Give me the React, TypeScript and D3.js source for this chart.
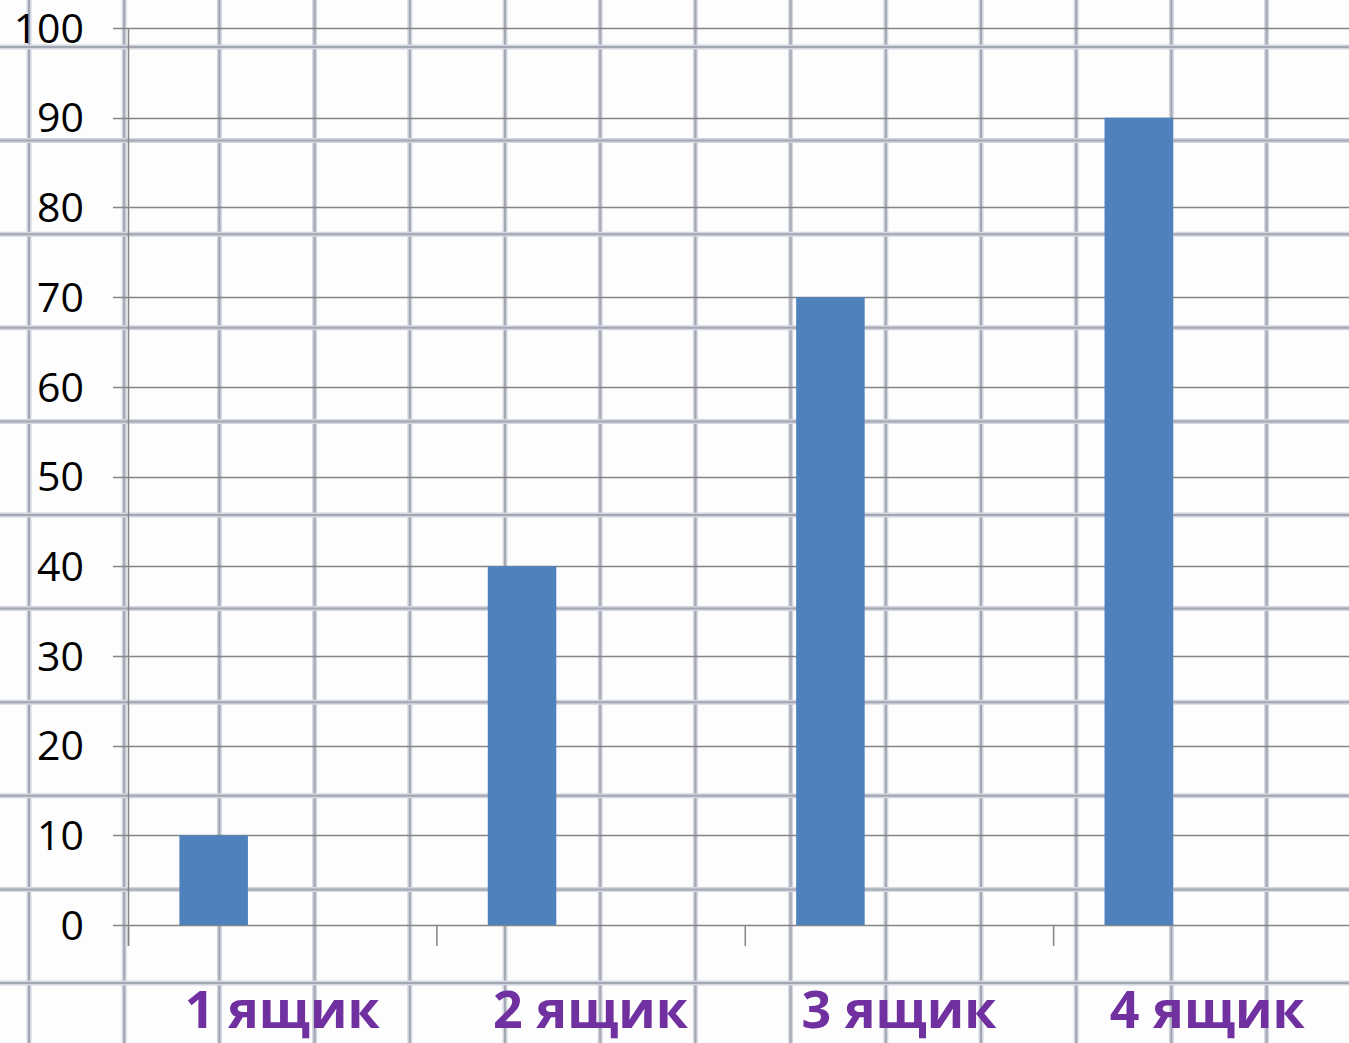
import React from "react";
import * as d3 from "d3";

const categories = ["1 ящик", "2 ящик", "3 ящик", "4 ящик"];
const seriesNames = ["Ряд 1", "Ряд 2", "Ряд 3"];
const series1 = [10, 40, 70, 90];
const series2 = [0, 0, 0, 0];
const series3 = [0, 0, 0, 0];
const yTicks = [0, 10, 20, 30, 40, 50, 60, 70, 80, 90, 100];

const W = 1349;
const H = 1043;

export default function App() {
  const y = d3.scaleLinear().domain([0, 100]).range([925, 28]);
  const x0 = d3.scaleBand<string>().domain(categories).range([128, 1361.5]).paddingInner(0).paddingOuter(0);
  const x1 = d3
    .scaleBand<string>()
    .domain(seriesNames)
    .range([0, x0.bandwidth()])
    .paddingInner(0)
    .paddingOuter(0.75);
  const allSeries = [series1, series2, series3];

  // graph paper background
  const paperV = d3.range(29, W + 20, 95.2);
  const paperH = d3.range(47, H + 20, 93.6);

  return (
    <svg
      width={W}
      height={H}
      style={{ position: "absolute", left: 0, top: 0, background: "#fdfdfe" }}
    >
      <rect x={0} y={0} width={W} height={H} fill="#fdfdfe" />
      {/* graph paper */}
      {paperV.map((px, i) => (
        <g key={"pv" + i}>
          <line x1={px} x2={px} y1={0} y2={H} stroke="#d3d6df" strokeWidth={5} />
          <line x1={px} x2={px} y1={0} y2={H} stroke="#a3a7b4" strokeWidth={2} />
        </g>
      ))}
      {paperH.map((py, i) => (
        <g key={"ph" + i}>
          <line x1={0} x2={W} y1={py} y2={py} stroke="#d3d6df" strokeWidth={5} />
          <line x1={0} x2={W} y1={py} y2={py} stroke="#a3a7b4" strokeWidth={2} />
        </g>
      ))}

      {/* gridlines */}
      {yTicks.map((t) => (
        <line
          key={"g" + t}
          x1={113}
          x2={W}
          y1={Math.round(y(t)) + 0.5}
          y2={Math.round(y(t)) + 0.5}
          stroke="#858585"
          strokeWidth={1.5}
        />
      ))}

      {/* bars */}
      {allSeries.map((vals, si) =>
        vals.map((v, ci) =>
          v > 0 ? (
            <rect
              key={"b" + si + "-" + ci}
              x={(x0(categories[ci]) as number) + (x1(seriesNames[si]) as number)}
              y={y(v)}
              width={x1.bandwidth()}
              height={y(0) - y(v)}
              fill="#4f81bd"
            />
          ) : null
        )
      )}

      {/* y axis */}
      <line x1={128.5} x2={128.5} y1={y(100)} y2={946} stroke="#858585" strokeWidth={1.5} />
      {categories.map((c) => (
        <line
          key={"t" + c}
          x1={(x0(c) as number) + 0.5}
          x2={(x0(c) as number) + 0.5}
          y1={y(0)}
          y2={946}
          stroke="#858585"
          strokeWidth={1.5}
        />
      ))}

      {/* y labels */}
      {yTicks.map((t) => (
        <text
          key={"l" + t}
          x={84}
          y={y(t)}
          dy="0.36em"
          textAnchor="end"
          fontFamily="'Open Sans', sans-serif"
          fontSize={41}
          fill="#000"
        >
          {t}
        </text>
      ))}

      {/* category labels */}
      {categories.map((c) => (
        <text
          key={"c" + c}
          x={(x0(c) as number) + x0.bandwidth() / 2}
          y={1028}
          textAnchor="middle"
          fontFamily="'Open Sans', sans-serif"
          fontWeight="bold"
          fontSize={52}
          fill="#7030a0"
        >
          {c}
        </text>
      ))}
    </svg>
  );
}
